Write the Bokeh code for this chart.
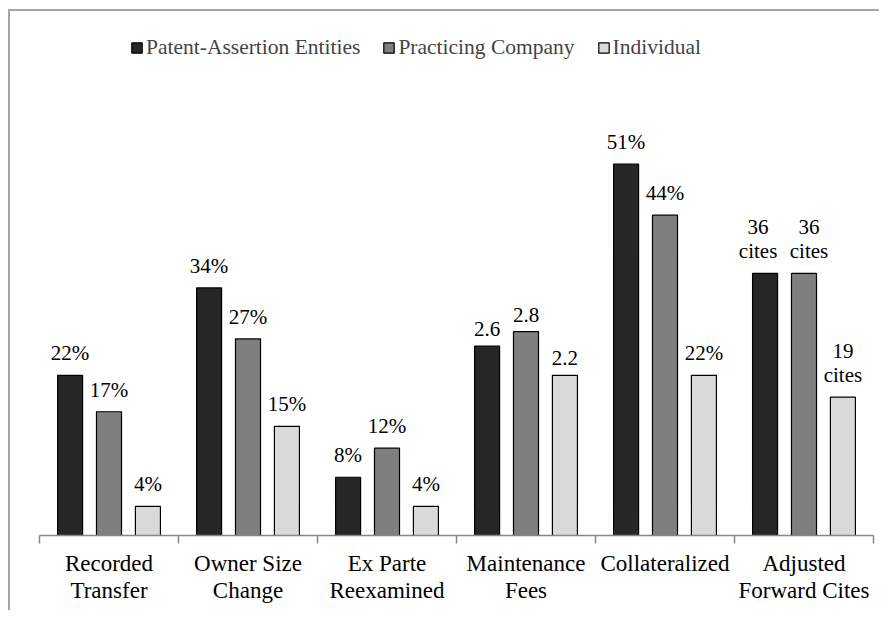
from bokeh.plotting import figure
from bokeh.models import ColumnDataSource, Range1d, FixedTicker, Legend, LegendItem
from bokeh.transform import dodge
from bokeh.core.properties import value
from bokeh.embed import file_html
from bokeh.resources import INLINE

categories = ["Recorded\nTransfer", "Owner Size\nChange", "Ex Parte\nReexamined",
              "Maintenance\nFees", "Collateralized", "Adjusted\nForward Cites"]
series_names = ["Patent-Assertion Entities", "Practicing Company", "Individual"]
# bar heights as drawn (maintenance fees drawn at 10x their value)
pae = [22, 34, 8, 26, 51, 36]
prac = [17, 27, 12, 28, 44, 36]
indiv = [4, 15, 4, 22, 22, 19]
pae_labels = ["22%", "34%", "8%", "2.6", "51%", "36\ncites"]
prac_labels = ["17%", "27%", "12%", "2.8", "44%", "36\ncites"]
indiv_labels = ["4%", "15%", "4%", "2.2", "22%", "19\ncites"]
colors = ["#262626", "#7f7f7f", "#d9d9d9"]

x = [i + 0.5 for i in range(len(categories))]
src = ColumnDataSource(dict(x=x, pae=pae, prac=prac, indiv=indiv,
                            pae_lab=pae_labels, prac_lab=prac_labels, indiv_lab=indiv_labels,
                            pae_nudge=[0, 0, 0, 0, 0, -7], prac_nudge=[0, 0, 0, 0, 0, 5],
                            indiv_nudge=[0, 0, 0, 0, 0, 0]))

FONT = "Liberation Serif"
p = figure(width=871, height=601, output_backend="svg", toolbar_location=None,
           x_range=Range1d(0, 6), y_range=Range1d(0, 70.6),
           y_axis_location=None, min_border_left=29, min_border_right=8,
           min_border_top=10, min_border_bottom=77)
p.styles = {"margin-left": "8px", "margin-top": "9px",
            "border-left": "2px solid #a6a6a6", "border-top": "2px solid #a6a6a6"}
p.outline_line_color = None
p.xgrid.visible = False
p.ygrid.visible = False

offsets = [-0.28, 0.0, 0.28]
fields = ["pae", "prac", "indiv"]
labfields = ["pae_lab", "prac_lab", "indiv_lab"]
nudges = ["pae_nudge", "prac_nudge", "indiv_nudge"]
renderers = []
for off, f, lf, nf, c in zip(offsets, fields, labfields, nudges, colors):
    r = p.vbar(x=dodge("x", off), top=f, width=0.18, bottom=0, source=src,
               fill_color=c, line_color="black", line_width=1.2)
    renderers.append(r)
    p.text(x=dodge("x", off), y=f, text=lf, source=src, text_align="center",
           text_baseline="bottom", y_offset=-10, x_offset=nf, text_font=value(FONT),
           text_font_size=value("21px"), text_color="black", text_line_height=1.0)

ax = p.xaxis[0]
ax.ticker = FixedTicker(ticks=x, minor_ticks=list(range(7)))
ax.major_label_overrides = {xi: c for xi, c in zip(x, categories)}
ax.major_tick_out = 0
ax.major_tick_in = 0
ax.minor_tick_out = 8
ax.minor_tick_in = 0
ax.minor_tick_line_color = "#868686"
ax.minor_tick_line_width = 1.5
ax.axis_line_color = "#868686"
ax.axis_line_width = 1.5
ax.major_label_text_font = FONT
ax.major_label_text_font_size = "23px"
ax.major_label_text_color = "black"
ax.major_label_text_line_height = 1.1
ax.major_label_standoff = 7

legend = Legend(items=[LegendItem(label=n, renderers=[r]) for n, r in zip(series_names, renderers)],
                orientation="horizontal", location=(91, 475), padding=0, margin=0,
                spacing=22, label_standoff=3, glyph_width=13, glyph_height=13,
                label_text_font=FONT, label_text_font_size="21.5px",
                border_line_color=None, background_fill_alpha=0)
p.add_layout(legend)

open("out.html", "w").write(file_html(p, INLINE))
